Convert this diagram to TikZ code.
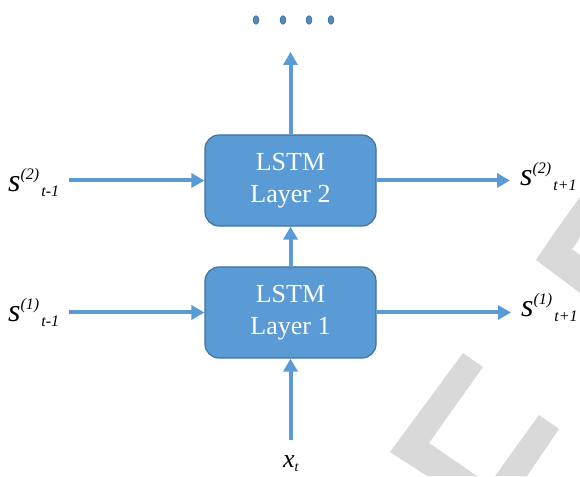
\documentclass[tikz,border=0pt]{standalone}
\usepackage{fontspec}
\setmainfont{Liberation Serif}
\usetikzlibrary{arrows.meta}

\definecolor{azul}{HTML}{5B9BD5}
\definecolor{azulosc}{HTML}{41719C}
\definecolor{gris}{HTML}{D9D9D9}

% s^{(k)} con subindice corrido a la derecha
\newcommand{\estado}[2]{\textit{{\fontsize{32}{34}\selectfont s}\raisebox{12pt}{\fontsize{16}{16}\selectfont(#1)}\hspace{2pt}\raisebox{-5pt}{\fontsize{16}{16}\selectfont #2}}}

\tikzset{caja/.style={draw=azulosc, line width=1.2pt, fill=azul, rounded corners=14pt,
                      minimum width=171pt, minimum height=91pt, text=white, align=center,
                      font=\fontsize{26}{32}\selectfont},
         flecha/.style={azul, line width=4pt, -{Triangle[length=13pt,width=14pt]}},
         etq/.style={inner sep=0pt}}

\begin{document}
\begin{tikzpicture}[x=1pt, y=1pt]
  \useasboundingbox (0,0) rectangle (580,476);

  % marca de agua
  \fill[gris] (580,279) .. controls (552,240) .. (536,216) -- (580,183) -- (580,221)
              -- (572,227) .. controls (576,232) .. (580,239) -- cycle;
  \fill[gris] (463,123) -- (390,24) -- (427,0) -- (477,0) -- (429,33) -- (483,109) -- cycle;
  \fill[gris] (539,61) -- (559,47) -- (527,0) -- (495,0) -- cycle;

  \node[caja] (caja2) at (290.5,295.5) {LSTM\\Layer 2};
  \node[caja] (caja1) at (290.5,163.5) {LSTM\\Layer 1};

  \node[etq, anchor=base west] (ant2) at (8,284) {\estado{2}{t-1}};
  \node[etq, anchor=base west] (ant1) at (8,154) {\estado{1}{t-1}};
  \node[etq, anchor=base west] (sig2) at (520,290) {\estado{2}{t+1}};
  \node[etq, anchor=base west] (sig1) at (521,159) {\estado{1}{t+1}};
  \node[etq, anchor=base west] (ent) at (283,9)
    {\textit{{\fontsize{26}{26}\selectfont x}\raisebox{-4pt}{\fontsize{14}{14}\selectfont t}}};
  \coordinate (sal) at (290.5,424);

  \draw[flecha] ([xshift=10pt]ant2.east |- caja2.west) -- (caja2.west);
  \draw[flecha] ([xshift=10pt]ant1.east |- caja1.west) -- (caja1.west);
  \draw[flecha] (caja2.east) -- ([xshift=-10pt]sig2.west |- caja2.east);
  \draw[flecha] (caja1.east) -- ([xshift=-10pt]sig1.west |- caja1.east);
  \draw[flecha, shorten <=15pt] (ent.north -| caja1.south) -- (caja1.south);
  \draw[flecha] (caja1) -- (caja2);
  \draw[flecha] (caja2) -- (sal);

  \foreach \x in {256,283,309,331}
    \filldraw[fill=azul!90!black, draw=azulosc, line width=0.8pt] (\x,456) ellipse (2.8 and 4.2);
\end{tikzpicture}
\end{document}
